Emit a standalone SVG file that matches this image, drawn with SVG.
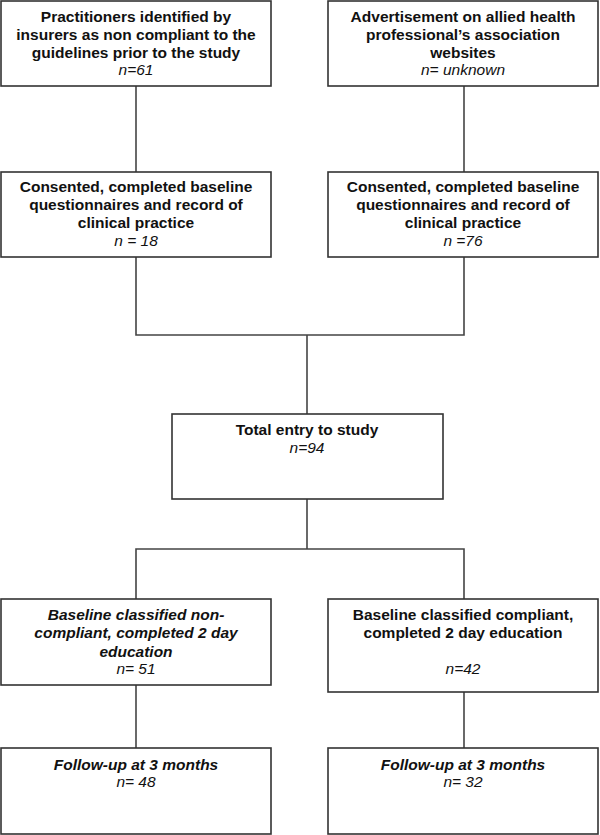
<svg xmlns="http://www.w3.org/2000/svg" width="600" height="835" viewBox="0 0 600 835">
<style>
.box{fill:#fff;stroke:#333;stroke-width:1.6}
.con{fill:none;stroke:#444;stroke-width:1.6}
text{font-family:"Liberation Sans",Arial,sans-serif;font-size:15.5px;fill:#111;text-anchor:middle}
.b{font-weight:bold}
.i{font-style:italic}
</style>
<rect width="600" height="835" fill="#fff"/>
<g id="connectors">
<line class="con" x1="136" y1="86" x2="136" y2="172"/>
<line class="con" x1="464" y1="86" x2="464" y2="172"/>
<polyline class="con" points="136,257 136,335 464,335 464,257"/>
<line class="con" x1="307" y1="335" x2="307" y2="414"/>
<line class="con" x1="307" y1="499" x2="307" y2="549"/>
<polyline class="con" points="136,599 136,549 464,549 464,599"/>
<line class="con" x1="136" y1="685" x2="136" y2="748"/>
<line class="con" x1="464" y1="692" x2="464" y2="748"/>
</g>
<g id="n1">
<rect class="box" x="1" y="1" width="270" height="85"/>
<text class="b" x="136" y="22">Practitioners identified by</text>
<text class="b" x="136" y="40">insurers as non compliant to the</text>
<text class="b" x="136" y="58">guidelines prior to the study</text>
<text class="i" x="136" y="75">n=61</text>
</g>
<g id="n2">
<rect class="box" x="328" y="1" width="270" height="85"/>
<text class="b" x="463" y="22">Advertisement on allied health</text>
<text class="b" x="463" y="40">professional’s association</text>
<text class="b" x="463" y="58">websites</text>
<text class="i" x="463" y="75">n= unknown</text>
</g>
<g id="n3">
<rect class="box" x="1" y="172" width="270" height="85"/>
<text class="b" x="136" y="192">Consented, completed baseline</text>
<text class="b" x="136" y="210">questionnaires and record of</text>
<text class="b" x="136" y="228">clinical practice</text>
<text class="i" x="136" y="246">n = 18</text>
</g>
<g id="n4">
<rect class="box" x="328" y="172" width="270" height="85"/>
<text class="b" x="463" y="192">Consented, completed baseline</text>
<text class="b" x="463" y="210">questionnaires and record of</text>
<text class="b" x="463" y="228">clinical practice</text>
<text class="i" x="463" y="246">n =76</text>
</g>
<g id="n5">
<rect class="box" x="172" y="414" width="271" height="85"/>
<text class="b" x="307" y="435">Total entry to study</text>
<text class="i" x="307" y="453">n=94</text>
</g>
<g id="n6">
<rect class="box" x="1" y="599" width="270" height="86"/>
<text class="b i" x="136" y="620">Baseline classified non-</text>
<text class="b i" x="136" y="638">compliant, completed 2 day</text>
<text class="b i" x="136" y="657">education</text>
<text class="i" x="136" y="674">n= 51</text>
</g>
<g id="n7">
<rect class="box" x="328" y="599" width="270" height="93"/>
<text class="b" x="463" y="620">Baseline classified compliant,</text>
<text class="b" x="463" y="638">completed 2 day education</text>
<text class="i" x="463" y="674">n=42</text>
</g>
<g id="n8">
<rect class="box" x="1" y="748" width="270" height="86"/>
<text class="b i" x="136" y="770">Follow-up at 3 months</text>
<text class="i" x="136" y="787">n= 48</text>
</g>
<g id="n9">
<rect class="box" x="328" y="748" width="270" height="86"/>
<text class="b i" x="463" y="770">Follow-up at 3 months</text>
<text class="i" x="463" y="787">n= 32</text>
</g>
</svg>
